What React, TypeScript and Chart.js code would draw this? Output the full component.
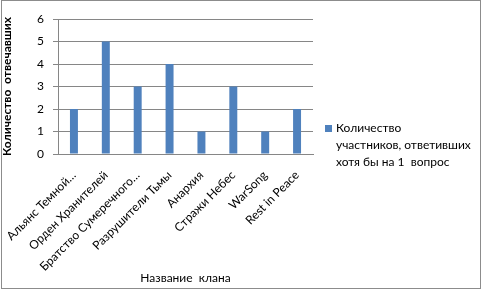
import React, { useEffect, useRef } from "react";
import { Chart, registerables } from "chart.js";

Chart.register(...registerables);

const categories = [
  "Альянс Темной…",
  "Орден Хранителей",
  "Братство Сумеречного…",
  "Разрушители Тьмы",
  "Анархия",
  "Стражи Небес",
  "WarSong",
  "Rest in Peace",
];
const respondents = [2, 5, 3, 4, 1, 3, 1, 2];
const seriesLabelLines = ["Количество", "участников, ответивших", "хотя бы на 1  вопрос"];
const yTitle = "Количество  отвечавших";
const xTitle = "Название  клана";

const FONT = "Lato, 'Liberation Sans', sans-serif";
const BAR = "#4F81BD";

const frameLegendPlugin = {
  id: "frameLegend",
  afterDraw(chart: any) {
    const ctx = chart.ctx;
    ctx.save();
    ctx.strokeStyle = "#8c8c8c";
    ctx.lineWidth = 1;
    ctx.strokeRect(1.5, 0.5, 479, 288);
    const area = chart.chartArea;
    const x0 = area.right + 12;
    const y0 = 128;
    ctx.fillStyle = BAR;
    ctx.fillRect(x0, y0 - 3, 7, 7);
    ctx.fillStyle = "#000";
    ctx.font = "12px " + FONT;
    ctx.textBaseline = "middle";
    ctx.textAlign = "left";
    seriesLabelLines.forEach((line, i) => {
      ctx.fillText(line, x0 + 11, y0 + i * 17);
    });
    ctx.restore();
  },
};

export default function App() {
  const ref = useRef<HTMLCanvasElement | null>(null);
  useEffect(() => {
    if (!ref.current) return;
    const chart = new Chart(ref.current, {
      type: "bar",
      data: {
        labels: categories,
        datasets: [
          {
            label: seriesLabelLines.join(" "),
            data: respondents,
            backgroundColor: BAR,
            categoryPercentage: 0.5,
            barPercentage: 0.5,
          },
        ],
      },
      options: {
        animation: false,
        responsive: false,
        maintainAspectRatio: false,
        layout: { padding: { left: 0, top: 19, right: 170, bottom: 0 } },
        plugins: { legend: { display: false }, tooltip: { enabled: false } },
        scales: {
          x: {
            grid: { display: false, drawTicks: false },
            border: { display: true, color: "#868686" },
            ticks: {
              color: "#000",
              font: { family: FONT, size: 12 },
              maxRotation: 45,
              minRotation: 45,
              autoSkip: false,
              padding: 14,
            },
            title: {
              display: true,
              text: xTitle,
              color: "#000",
              font: { family: FONT, size: 12 },
              padding: { top: 4, bottom: 6 },
            },
            afterFit(scale: any) {
              scale.height = 137;
              scale.paddingLeft = 0;
              scale.paddingRight = 0;
            },
          },
          y: {
            min: 0,
            max: 6,
            grid: { color: "#868686", tickLength: 5 },
            border: { display: true, color: "#868686" },
            ticks: {
              stepSize: 1,
              color: "#000",
              font: { family: FONT, size: 12 },
              padding: 9,
            },
            title: {
              display: true,
              text: yTitle,
              color: "#000",
              font: { family: FONT, size: 12, weight: "bold" },
              padding: { top: 0, bottom: 4 },
            },
            afterFit(scale: any) {
              scale.width = 58;
              scale.paddingTop = 0;
              scale.paddingBottom = 0;
            },
          },
        },
      },
      plugins: [frameLegendPlugin],
    } as any);
    return () => chart.destroy();
  }, []);
  return (
    <div style={{ position: "fixed", left: 0, top: 0, width: 483, height: 291, background: "#fff" }}>
      <canvas ref={ref} width={483} height={291} style={{ width: 483, height: 291, display: "block" }} />
    </div>
  );
}
